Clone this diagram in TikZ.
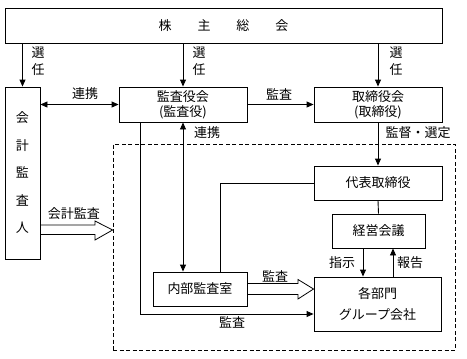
\documentclass[tikz,border=0pt]{standalone}
\usepackage{fontspec}
\newfontfamily\jp{Noto Sans CJK JP}
\usetikzlibrary{arrows.meta,calc}
\begin{document}
\begin{tikzpicture}[x=1pt,y=-1pt,
  every node/.style={font=\jp\fontsize{13}{15}\selectfont, inner sep=0pt},
  box/.style={draw, line width=0.9pt, rectangle, inner sep=0pt, align=center},
  ln/.style={line width=0.9pt},
  arr/.style={ln, -{Triangle[length=7pt,width=6pt]}},
  darr/.style={ln, {Triangle[length=7pt,width=6pt]}-{Triangle[length=7pt,width=6pt]}},
  blk/.style={line width=0.8pt, line join=miter},
  grpbox/.style={draw, line width=0.8pt, dash pattern=on 4pt off 2.5pt}]
\useasboundingbox (0,0) rectangle (467,359);
% group frame
\node[grpbox, minimum width=342pt, minimum height=206pt] (grp) at (284,247) {};
% boxes
\node[box, minimum width=437pt, minimum height=35pt] (top) at (223.5,25.5) {株\hspace{26pt}主\hspace{26pt}総\hspace{26pt}会};
\node[box, minimum width=35pt, minimum height=172pt, font=\jp\fontsize{13}{27.5}\selectfont] (kaikei) at (22.5,173) {会\\計\\監\\査\\人};
\node[box, minimum width=128pt, minimum height=35pt, font=\jp\fontsize{13}{15}\selectfont] (kansa) at (183,104.5) {監査役会\\(監査役)};
\node[box, minimum width=128pt, minimum height=35pt, font=\jp\fontsize{13}{15}\selectfont] (tori) at (378,104.5) {取締役会\\(取締役)};
\node[box, minimum width=128pt, minimum height=34pt] (daihyo) at (378,183) {代表取締役};
\node[box, minimum width=93pt, minimum height=34pt] (keiei) at (378.5,231) {経営会議};
\node[box, minimum width=94pt, minimum height=34pt] (naibu) at (200,289) {内部監査室};
\node[box, minimum width=127pt, minimum height=54pt, font=\jp\fontsize{13}{21}\selectfont] (kakubu) at (377.5,304) {各部門\\グループ会社};
% connectors
\draw[arr] (top.south -| kaikei) -- (kaikei.north);
\draw[arr] (top.south -| kansa) -- (kansa.north);
\draw[arr] (top.south -| tori) -- (tori.north);
\draw[darr] (kaikei.east |- kansa) -- (kansa.west);
\draw[arr] (kansa.east) -- (tori.west);
\draw[darr] (kansa.south) -- (naibu.north -| kansa);
\draw[arr] (kansa.south -| 140,0) |- (kakubu.west |- 0,314);
\draw[arr] (tori.south) -- (daihyo.north);
\draw[ln] (daihyo.south) -- (keiei.north);
\draw[ln] (naibu.north -| 220,0) |- (daihyo.west);
\draw[arr] (keiei.south -| 363,0) -- (kakubu.north -| 363,0);
\draw[arr] (kakubu.north -| 393,0) -- (keiei.south -| 393,0);
% block arrows
\draw[blk] (kaikei.east |- 0,225) -- (95,225) -- (95,221) -- (grp.west |- 0,230) -- (95,240) -- (95,234.5) -- (kaikei.east |- 0,234.5);
\draw[blk] (naibu.east |- 0,283.5) -- (298,283.5) -- (298,279.5) -- (kakubu.west |- naibu.east) -- (298,299) -- (298,294.5) -- (naibu.east |- 0,294.5);
% labels
\node[align=center, font=\jp\fontsize{13}{17}\selectfont] (s1) at (38,61.5) {選\\任};
\node[align=center, font=\jp\fontsize{13}{17}\selectfont] (s2) at (199,61.5) {選\\任};
\node[align=center, font=\jp\fontsize{13}{17}\selectfont] (s3) at (396,61.5) {選\\任};
\node (l1) at (85,94) {連携};
\node (l2) at (279,94) {監査};
\node (l3) at (207,133) {連携};
\node (l4) at (418,133) {監督・選定};
\node (l5) at (74,213.5) {会計監査};
\node (l6) at (275,276) {監査};
\node (l7) at (232,322) {監査};
\node (l8) at (342,263) {指示};
\node (l9) at (410,263) {報告};
\end{tikzpicture}
\end{document}
